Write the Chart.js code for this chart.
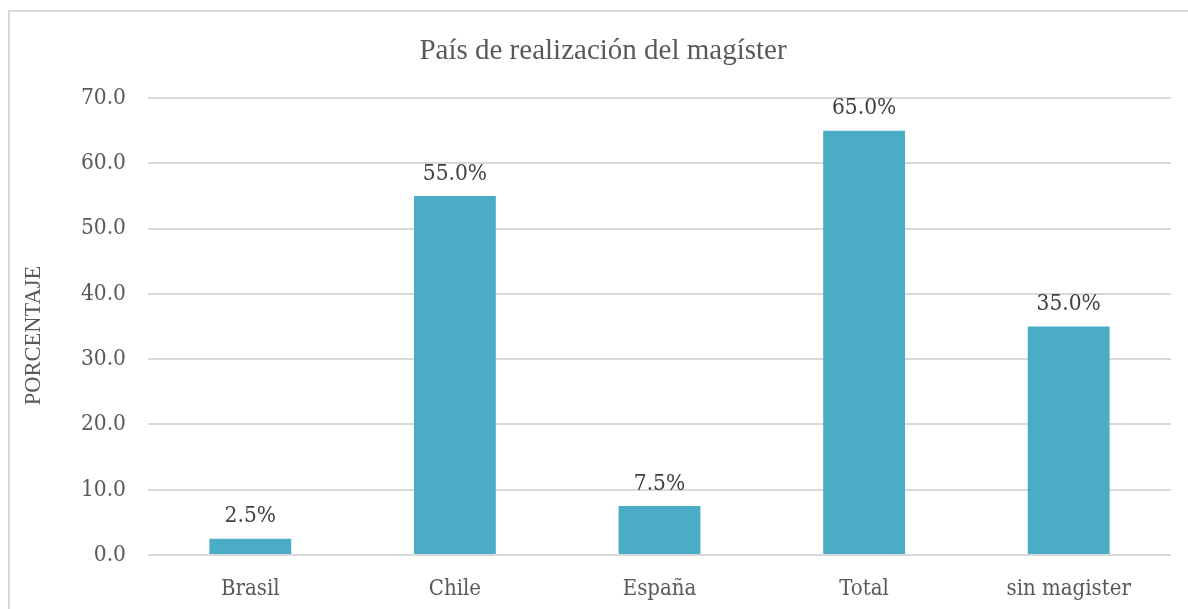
<!DOCTYPE html>
<html>
<head>
<meta charset="utf-8">
<script src="https://cdn.jsdelivr.net/npm/chart.js@4"></script>
<style>
    body { margin: 0; background: #fff; overflow: hidden; }
    #wrap { position: relative; width: 1188px; height: 609px; }
    #frame { position: absolute; left: 8px; top: 10px; width: 1300px; height: 700px; border: 2px solid #d9d9d9; box-sizing: border-box; }
    canvas { position: absolute; left: 0; top: 0; }
</style>
</head>
<body>
<div id="wrap">
    <div id="frame"></div>
    <canvas id="chart" width="1188" height="609"></canvas>
</div>
<script>
    const categories = ['Brasil', 'Chile', 'España', 'Total', 'sin magister'];
    const percentages = [2.5, 55.0, 7.5, 65.0, 35.0];
    const chartTitle = 'País de realización del magíster';
    const yTitle = 'PORCENTAJE';

    const serifFont = "'DejaVu Serif Condensed', 'DejaVu Serif', serif";
    const titleFont = "'Liberation Serif', serif";

    // etiquetas de datos encima de cada barra + títulos (centrados como en el marco original)
    const barLabels = {
        id: 'barLabels',
        afterDatasetsDraw(chart) {
            const ctx = chart.ctx;
            const meta = chart.getDatasetMeta(0);
            const area = chart.chartArea;
            ctx.save();
            ctx.font = `22.5px ${serifFont}`;
            ctx.fillStyle = '#404040';
            ctx.textAlign = 'center';
            ctx.textBaseline = 'bottom';
            meta.data.forEach((bar, i) => {
                ctx.fillText(percentages[i].toFixed(1) + '%', bar.x, bar.y - 11);
            });

            ctx.fillStyle = '#595959';
            ctx.textBaseline = 'middle';
            ctx.font = `29px ${titleFont}`;
            ctx.fillText(chartTitle, 603, 51);

            ctx.font = `22.5px ${titleFont}`;
            ctx.translate(34, (area.top + area.bottom) / 2 + 9);
            ctx.rotate(-Math.PI / 2);
            ctx.fillText(yTitle, 0, 0);
            ctx.restore();
        }
    };

    new Chart(document.getElementById('chart'), {
        type: 'bar',
        data: {
            labels: categories,
            datasets: [{
                data: percentages,
                backgroundColor: '#4BACC6',
                borderWidth: 0,
                barPercentage: 0.4,
                categoryPercentage: 1.0
            }]
        },
        options: {
            responsive: false,
            animation: false,
            layout: { padding: { left: 0, right: 17, top: 98, bottom: 0 } },
            plugins: {
                legend: { display: false },
                tooltip: { enabled: false },
                title: { display: false }
            },
            scales: {
                x: {
                    grid: { display: false },
                    border: { display: false },
                    ticks: { color: '#595959', font: { family: serifFont, size: 22 }, padding: 13 },
                    afterFit: (s) => { s.height = 54; }
                },
                y: {
                    min: 0,
                    max: 70,
                    ticks: {
                        stepSize: 10,
                        color: '#595959',
                        font: { family: serifFont, size: 22.5 },
                        padding: 22,
                        callback: (v) => Number(v).toFixed(1)
                    },
                    grid: { color: '#d9d9d9', lineWidth: 2, drawTicks: false },
                    border: { display: false },
                    title: { display: false },
                    afterFit: (s) => { s.width = 148; }
                }
            }
        },
        plugins: [barLabels]
    });
</script>
</body>
</html>
